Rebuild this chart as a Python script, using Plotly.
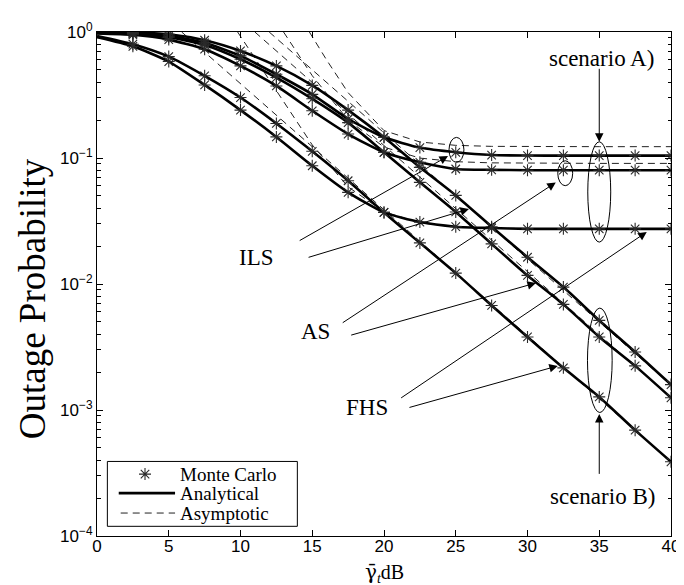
import numpy as np
import plotly.graph_objects as go

# ---------------- data ----------------
snr_db = [0, 2.5, 5, 7.5, 10, 12.5, 15, 17.5, 20, 22.5, 25, 27.5, 30, 32.5, 35, 37.5, 40]

# scenario A (error floor)
ils_a = [0.99, 0.98, 0.93, 0.82, 0.646, 0.462, 0.32, 0.204, 0.146, 0.121, 0.111, 0.1055,
         0.1046, 0.1045, 0.1045, 0.1045, 0.1045]
as_a = [0.975, 0.95, 0.87, 0.73, 0.538, 0.373, 0.237, 0.155, 0.111, 0.0924, 0.0818, 0.0805,
        0.0800, 0.0800, 0.0800, 0.0800, 0.0800]
fhs_a = [0.91, 0.77, 0.583, 0.38, 0.240, 0.147, 0.0868, 0.0534, 0.037, 0.031, 0.0285, 0.0278,
         0.0274, 0.0274, 0.0274, 0.0274, 0.0274]
# scenario B (diversity)
ils_b = [0.995, 0.99, 0.96, 0.86, 0.707, 0.538, 0.377, 0.240, 0.146, 0.0843, 0.0505, 0.0285,
         0.0163, 0.00945, 0.00514, 0.00289, 0.00159]
as_b = [0.985, 0.97, 0.91, 0.79, 0.608, 0.435, 0.295, 0.191, 0.111, 0.0641, 0.0373, 0.0208,
        0.0117, 0.00689, 0.0038, 0.00224, 0.00125]
fhs_b = [0.93, 0.80, 0.638, 0.449, 0.302, 0.188, 0.113, 0.066, 0.037, 0.0212, 0.0122, 0.00676,
         0.0038, 0.00216, 0.00127, 0.000692, 0.000388]

# asymptotic curves
asym_ils_b_x = [12.0, 40]
asym_ils_b = [1.0, 0.00158]
asym_as_b_x = [11.0, 40]
asym_as_b = [1.0, 0.00125]
asym_fhs_b_x = [5.9, 40]
asym_fhs_b = [1.0, 0.000388]
asym_ils_a_x = [14.8, 16, 17.5, 20, 22.5, 25, 27.5, 30, 35, 40]
asym_ils_a = [1.0, 0.6, 0.33, 0.165, 0.134, 0.126, 0.1237, 0.123, 0.123, 0.123]
asym_as_a_x = [13.0, 15, 17.5, 20, 22.5, 25, 27.5, 30, 35, 40]
asym_as_a = [1.0, 0.45, 0.2, 0.122, 0.0998, 0.0935, 0.0915, 0.0908, 0.0906, 0.0906]
asym_fhs_a_x = [9.8, 12.5, 15, 17.5, 20, 22.5, 25, 27.5, 30, 35, 40]
asym_fhs_a = [1.0, 0.34, 0.127, 0.059, 0.0374, 0.0306, 0.0284, 0.0277, 0.0275, 0.0274, 0.0274]

x_ticks = [0, 5, 10, 15, 20, 25, 30, 35, 40]
y_tick_vals = [1e-4, 1e-3, 1e-2, 1e-1, 1]
y_tick_text = ["10<sup>\u22124</sup>", "10<sup>\u22123</sup>", "10<sup>\u22122</sup>",
               "10<sup>\u22121</sup>", "10<sup>0</sup>"]
y_minor_vals = [d * 10.0 ** e for e in range(-4, 0) for d in range(2, 10)]

legend_labels = ["Monte Carlo", "Analytical", "Asymptotic"]

analytical = [ils_a, as_a, fhs_a, ils_b, as_b, fhs_b]
asymptotic = [(asym_ils_a_x, asym_ils_a), (asym_as_a_x, asym_as_a), (asym_fhs_a_x, asym_fhs_a),
              (asym_ils_b_x, asym_ils_b), (asym_as_b_x, asym_as_b), (asym_fhs_b_x, asym_fhs_b)]

SERIF = "Liberation Serif, Times New Roman, serif"
SANS = "Liberation Sans, Arial, sans-serif"
MARK_COLOR = "#2a2a2a"

W, H = 684, 585
ML, MR, MT, MB = 89, 14, 23, 57

fig = go.Figure()

for ax_x, ax_y in asymptotic:
    fig.add_trace(go.Scatter(x=ax_x, y=ax_y, mode="lines",
                             line=dict(color="#222", width=1, dash="7px,5px"),
                             showlegend=False, hoverinfo="skip"))

for vals in analytical:
    fig.add_trace(go.Scatter(x=snr_db, y=vals, mode="lines",
                             line=dict(color="black", width=2.6, shape="spline", smoothing=0.6),
                             showlegend=False))

for vals in analytical:
    fig.add_trace(go.Scatter(x=snr_db[1:], y=vals[1:], mode="markers",
                             marker=dict(symbol="asterisk-open", size=10, color=MARK_COLOR,
                                         line=dict(color=MARK_COLOR, width=1.1)),
                             showlegend=False))

# ---------- custom legend (MATLAB style box) ----------
def px_x(px):
    return (px - ML) / (W - ML - MR)


def px_y(py):
    return 1 - (py - MT) / (H - MT - MB)


fig.add_trace(go.Scatter(x=[px_x(137.6)], y=[px_y(466)], xaxis="x2", yaxis="y2", mode="markers",
                         marker=dict(symbol="asterisk-open", size=10, color=MARK_COLOR,
                                     line=dict(color=MARK_COLOR, width=1.1)),
                         showlegend=False, hoverinfo="skip"))

shapes = [
    dict(type="rect", xref="paper", yref="paper", x0=px_x(99.5), x1=px_x(291.8),
         y0=px_y(518.3), y1=px_y(453.3), line=dict(color="black", width=1),
         fillcolor="white", layer="below"),
    dict(type="line", xref="paper", yref="paper", x0=px_x(111), x1=px_x(168),
         y0=px_y(485), y1=px_y(485), line=dict(color="black", width=2.6), layer="above"),
    dict(type="line", xref="paper", yref="paper", x0=px_x(113), x1=px_x(168),
         y0=px_y(505), y1=px_y(505), line=dict(color="#222", width=1, dash="7px,5px"),
         layer="above"),
]

# ellipses (in data coordinates)
ellipses = [(24.53, 25.57, 0.0924, 0.1457), (32.11, 33.15, 0.0603, 0.0951),
            (34.2, 35.8, 0.0215, 0.1345), (34.18, 35.9, 0.000955, 0.00644)]
for x0, x1, y0, y1 in ellipses:
    shapes.append(dict(type="circle", xref="x", yref="y", x0=x0, x1=x1, y0=y0, y1=y1,
                       line=dict(color="black", width=1)))

annotations = []
for i, lab in enumerate(legend_labels):
    annotations.append(dict(xref="paper", yref="paper", x=px_x(171), y=px_y([466, 485.5, 505][i]),
                            text=lab, showarrow=False, xanchor="left", yanchor="middle",
                            font=dict(family=SERIF, size=19, color="black")))

# arrows: (head_x, head_log10y, tail_x, tail_log10y)
arrows = [
    (24.46, -0.985, 14.02, -1.662),
    (25.92, -1.404, 14.64, -1.792),
    (31.97, -1.194, 17.02, -2.315),
    (30.59, -1.992, 17.61, -2.409),
    (38.31, -1.587, 21.09, -2.912),
    (32.11, -2.650, 21.67, -2.983),
    (35.0, -0.871, 35.0, -0.280),
    (35.0, -3.032, 35.0, -3.519),
]
for hx, hy, tx, ty in arrows:
    annotations.append(dict(xref="x", yref="y", x=hx, y=hy, axref="x", ayref="y", ax=tx, ay=ty,
                            text="", showarrow=True, arrowhead=2, arrowsize=1.7, arrowwidth=1,
                            arrowcolor="black", standoff=0))

labels = [("ILS", 11.09, -1.792), ("AS", 15.21, -2.379), ("FHS", 18.81, -2.983),
          ("scenario A)", 35.14, -0.2075), ("scenario B)", 35.21, -3.688)]
for txt, lx, ly in labels:
    annotations.append(dict(xref="x", yref="y", x=lx, y=ly, text=txt, showarrow=False,
                            xanchor="center", yanchor="middle",
                            font=dict(family=SERIF, size=23, color="black")))

# axis titles
annotations.append(dict(xref="paper", yref="paper", x=px_x(24), y=px_y(290),
                        text="Outage Probability", textangle=-90, showarrow=False,
                        xanchor="center", yanchor="middle",
                        font=dict(family=SERIF, size=37, color="black")))
annotations.append(dict(xref="paper", yref="paper", x=0.5, y=px_y(565),
                        text="<span style=\"font-family:DejaVu Serif\">\u03b3\u0304</span>"
                             "<sub><i>t</i></sub>dB",
                        showarrow=False, xanchor="center", yanchor="middle",
                        font=dict(family=SERIF, size=20, color="black")))

fig.update_layout(
    width=W, height=H,
    margin=dict(l=ML, r=MR, t=MT, b=MB, pad=0),
    paper_bgcolor="white", plot_bgcolor="white",
    showlegend=False,
    xaxis=dict(range=[0, 40], tickvals=x_ticks, ticks="inside", ticklen=6, tickwidth=1,
               tickcolor="black", showline=True, linecolor="black", linewidth=1,
               mirror="ticks", showgrid=False, zeroline=False, ticklabelstandoff=-5,
               tickfont=dict(family=SANS, size=17, color="black")),
    yaxis=dict(type="log", range=[-4, 0], tickvals=y_tick_vals, ticktext=y_tick_text,
               ticks="inside", ticklen=6, tickwidth=1, tickcolor="black", showline=True,
               linecolor="black", linewidth=1, mirror="ticks", showgrid=False, zeroline=False,
               tickfont=dict(family=SANS, size=17, color="black"),
               minor=dict(tickmode="array", tickvals=y_minor_vals, ticks="inside", ticklen=3.5,
                          tickcolor="black", showgrid=False)),
    xaxis2=dict(overlaying="x", range=[0, 1], visible=False),
    yaxis2=dict(overlaying="y", range=[0, 1], visible=False),
    shapes=shapes,
    annotations=annotations,
)

fig.write_html("out.html")
